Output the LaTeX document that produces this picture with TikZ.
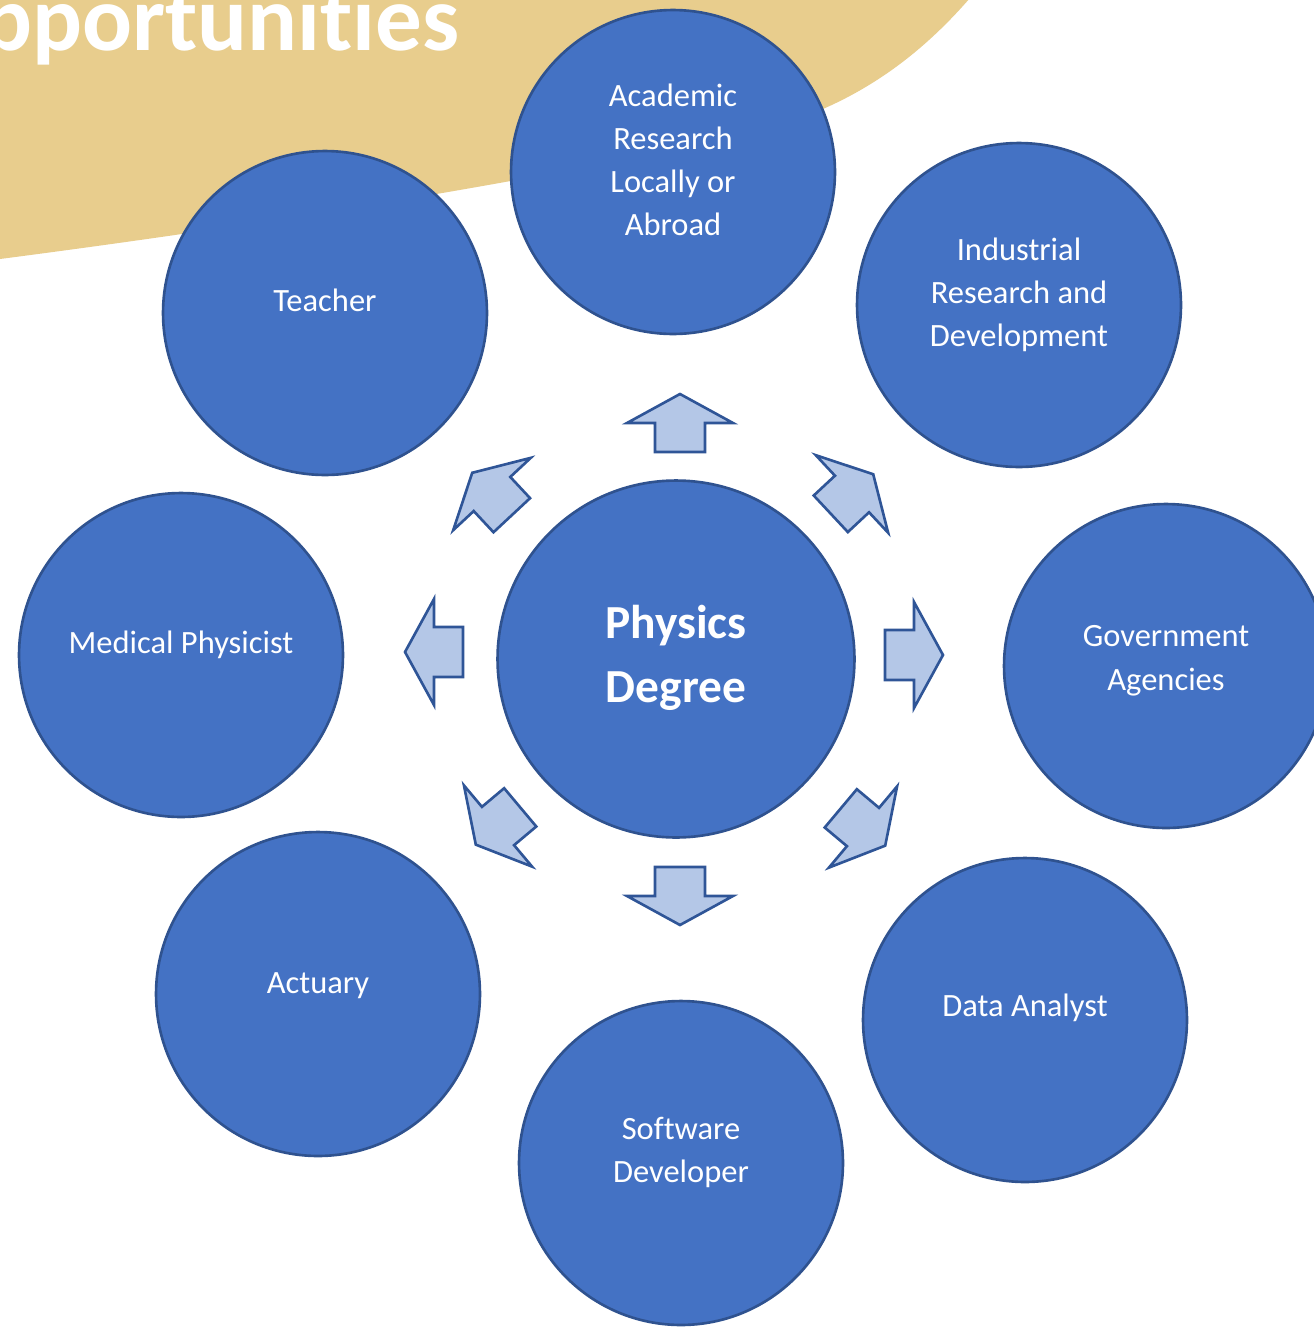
\documentclass[tikz,border=0pt]{standalone}
\usepackage{fontspec}
\setmainfont{Carlito}[Ligatures={NoCommon,NoContextual}]

\definecolor{bannertan}{HTML}{E8CD8D}
\definecolor{circfill}{HTML}{4472C4}
\definecolor{circedge}{HTML}{2F528F}
\definecolor{spokefill}{HTML}{B4C7E7}
\definecolor{spokeedge}{HTML}{2F5597}

\begin{document}
\begin{tikzpicture}[x=0.02cm, y=-0.02cm,
        career/.style={circle, draw=circedge, fill=circfill, line width=1.5pt, minimum size=6.48cm, inner sep=0pt},
        hub/.style={career, minimum size=7.14cm},
        careertext/.style={text=white, align=center, inner sep=0pt, font=\fontsize{18.5}{24.5}\selectfont},
        hubtext/.style={careertext, font=\fontsize{27}{36.3}\selectfont\bfseries},
        heading/.style={text=white, inner sep=0pt, font=\fontsize{53}{60}\selectfont\bfseries},
        spoke/.style={draw=spokeedge, fill=spokefill, line width=1.5pt}]
    \useasboundingbox (0,0) rectangle (1314,1329);
    \clip (0,0) rectangle (1314,1329);
    % banner in the corner
    \fill[bannertan] (0,-30) -- (0,259) .. controls (300,220) and (600,170) .. (780,125)
        .. controls (860,100) and (925,55) .. (985,-20) -- cycle;
    \node[heading, anchor=base east] (title) at (460,50) {Opportunities};
    % centre and spokes
    \node[hub] (degree) at (676,659) {};
    \node[hubtext] (degree-t) at ([yshift=0.5pt]degree.center) {Physics\\Degree};
    \foreach \a/\x/\y in {90/680/423, 43/852/494, 0/914/655, -40/863/827,
            -90/680/896, -140/498/826, 180/434/652, 133/492/494}
        \draw[spoke, shift={(\x,\y)}, rotate=\a] (-29,-25) -- (0,-25) -- (0,-53) -- (29,0) -- (0,53) -- (0,25) -- (-29,25) -- cycle;
    % careers
    \foreach \n/\x/\y/\s/\txt in {academic/673/172/7/{Academic\\Research\\Locally or\\Abroad},
            teacher/325/313/7/{Teacher},
            industry/1019/305/6/{Industrial\\Research and\\Development},
            medical/181/655/6/{Medical Physicist},
            government/1166/666/3/{Government\\Agencies},
            actuary/318/994/5/{Actuary},
            data/1025/1020/7/{Data Analyst},
            software/681/1163/6/{Software\\Developer}}{
        \node[career] (\n) at (\x,\y) {};
        \node[careertext] (\n-t) at ([yshift=\s pt]\n.center) {\txt};
    }
\end{tikzpicture}
\end{document}
